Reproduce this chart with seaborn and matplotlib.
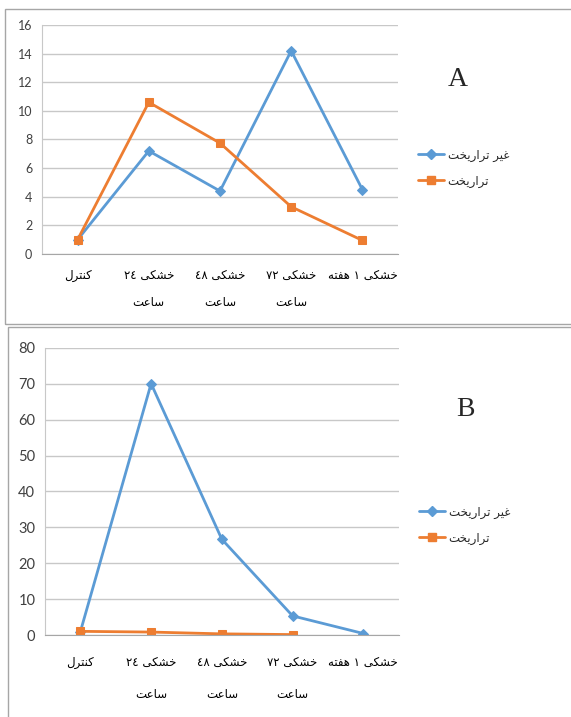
import matplotlib.pyplot as plt
import numpy as np
import pandas as pd
import seaborn as sns
from matplotlib.lines import Line2D
from matplotlib.patches import Rectangle

# Data
categories = ['کنترل', 'خشکی ٢٤\nساعت', 'خشکی ٤٨\nساعت', 'خشکی ٧٢\nساعت', 'خشکی ١ هفته']
series_names = ['غیر تراریخت', 'تراریخت']
a_non_transgenic = [1.0, 7.2, 4.4, 14.2, 4.5]
a_transgenic = [1.0, 10.6, 7.75, 3.3, 0.95]
b_non_transgenic = [1.0, 70.0, 26.7, 5.4, 0.5]
b_transgenic = [1.1, 0.9, 0.4, 0.2, np.nan]
a_yticks = [0, 2, 4, 6, 8, 10, 12, 14, 16]
b_yticks = [0, 10, 20, 30, 40, 50, 60, 70, 80]

BLUE = '#5B9BD5'
ORANGE = '#ED7D31'

# minimal Arabic/Persian shaping (matplotlib has no bidi / joining)
FORMS = {
    'ا': ('\uFE8D', '\uFE8E', None, None),
    'ر': ('\uFEAD', '\uFEAE', None, None),
    'ت': ('\uFE95', '\uFE96', '\uFE97', '\uFE98'),
    'خ': ('\uFEA5', '\uFEA6', '\uFEA7', '\uFEA8'),
    'س': ('\uFEB1', '\uFEB2', '\uFEB3', '\uFEB4'),
    'ش': ('\uFEB5', '\uFEB6', '\uFEB7', '\uFEB8'),
    'ع': ('\uFEC9', '\uFECA', '\uFECB', '\uFECC'),
    'غ': ('\uFECD', '\uFECE', '\uFECF', '\uFED0'),
    'ف': ('\uFED1', '\uFED2', '\uFED3', '\uFED4'),
    'ل': ('\uFEDD', '\uFEDE', '\uFEDF', '\uFEE0'),
    'ن': ('\uFEE5', '\uFEE6', '\uFEE7', '\uFEE8'),
    'ه': ('\uFEE9', '\uFEEA', '\uFEEB', '\uFEEC'),
    'ک': ('\uFB8E', '\uFB8F', '\uFB90', '\uFB91'),
    'ی': ('\uFBFC', '\uFBFD', '\uFBFE', '\uFBFF'),
}


def shape_word(word):
    out = []
    for i, ch in enumerate(word):
        f = FORMS.get(ch)
        if f is None:
            out.append(ch)
            continue
        prev = word[i - 1] if i > 0 else None
        nxt = word[i + 1] if i + 1 < len(word) else None
        join_prev = prev in FORMS and FORMS[prev][2] is not None
        join_next = nxt in FORMS and f[2] is not None
        if join_prev and join_next:
            out.append(f[3])
        elif join_prev:
            out.append(f[1])
        elif join_next:
            out.append(f[2])
        else:
            out.append(f[0])
    if any(c in FORMS for c in word):
        return ''.join(out)[::-1]
    return ''.join(out)


def rtl(text):
    lines = []
    for line in text.split('\n'):
        words = [shape_word(w) for w in line.split(' ')]
        lines.append(' '.join(words[::-1]))
    return '\n'.join(lines)


sns.set_style('white')
plt.rcParams['font.family'] = ['Lato', 'DejaVu Sans']

W, H = 571, 717
fig = plt.figure(figsize=(W / 100, H / 100), dpi=100)

# panel borders
fig.patches.append(Rectangle((5 / W, 1 - 324 / H), 1.0, 315 / H, transform=fig.transFigure,
                             fill=False, edgecolor='#a6a6a6', lw=1.0))
fig.patches.append(Rectangle((8 / W, -0.1), 1.0, 1 - 327 / H + 0.1, transform=fig.transFigure,
                             fill=False, edgecolor='#a6a6a6', lw=1.0))


def draw_panel(rect, blue_vals, orange_vals, yticks, letter, letter_xy, legend_xy, fs, linesp, xpad):
    ax = fig.add_axes(rect)
    x = np.arange(len(categories))
    df = pd.DataFrame({'x': np.concatenate([x, x]),
                       'value': blue_vals + orange_vals,
                       'series': [series_names[0]] * len(x) + [series_names[1]] * len(x)})
    sns.lineplot(data=df[df['series'] == series_names[0]], x='x', y='value', color=BLUE, lw=2,
                 marker='D', markersize=5, markeredgecolor=BLUE, ax=ax, legend=False)
    sns.lineplot(data=df[df['series'] == series_names[1]].dropna(), x='x', y='value', color=ORANGE, lw=2,
                 marker='s', markersize=6, markeredgecolor=ORANGE, ax=ax, legend=False)

    ax.set_xlim(-0.5, len(categories) - 0.5)
    ax.set_ylim(yticks[0], yticks[-1])
    ax.set_yticks(yticks)
    ax.set_yticklabels([str(t) for t in yticks], fontsize=fs)
    ax.set_xticks(np.arange(len(categories) + 1) - 0.5)
    ax.set_xticklabels([])
    ax.set_xticks(x, minor=True)
    ax.set_xticklabels([rtl(c) for c in categories], minor=True, fontsize=8.5,
                       linespacing=linesp, family='DejaVu Sans')
    ax.tick_params(axis='x', which='minor', length=0, pad=xpad)
    ax.tick_params(axis='x', which='major', length=4, color='#a6a6a6', direction='out')
    ax.tick_params(axis='y', length=4, color='#c8c8c8', direction='out', pad=3, colors='#404040')
    ax.tick_params(axis='x', which='minor', colors='black')
    ax.set_xlabel('')
    ax.set_ylabel('')
    ax.yaxis.grid(True, color='#c8c8c8', lw=1.0)
    ax.set_axisbelow(True)
    for s in ['top', 'right']:
        ax.spines[s].set_visible(False)
    ax.spines['left'].set_color('#c8c8c8')
    ax.spines['bottom'].set_color('#a6a6a6')

    handles = [Line2D([], [], color=BLUE, lw=2, marker='D', markersize=5),
               Line2D([], [], color=ORANGE, lw=2, marker='s', markersize=6)]
    ax.legend(handles, [rtl(n) for n in series_names], loc='center left',
              bbox_to_anchor=(legend_xy[0] / W, 1 - legend_xy[1] / H), bbox_transform=fig.transFigure,
              frameon=False, handlelength=2.2, handletextpad=0.3,
              borderpad=0, borderaxespad=0, labelspacing=1.1, prop={'family': 'DejaVu Sans', 'size': 8.5})
    fig.text(letter_xy[0] / W, 1 - letter_xy[1] / H, letter, fontsize=20, family='Liberation Serif',
             ha='center', va='center')
    return ax


draw_panel([42 / W, 1 - 254 / H, 356 / W, 229 / H], a_non_transgenic, a_transgenic, a_yticks,
           'A', (458, 80), (418, 168), 9, 2.4, 11)
draw_panel([45 / W, 1 - 635.3 / H, 353.7 / W, 287.6 / H], b_non_transgenic, b_transgenic, b_yticks,
           'B', (465, 409), (419, 525), 10.5, 2.85, 15)

fig.savefig('out.png', dpi=100)
